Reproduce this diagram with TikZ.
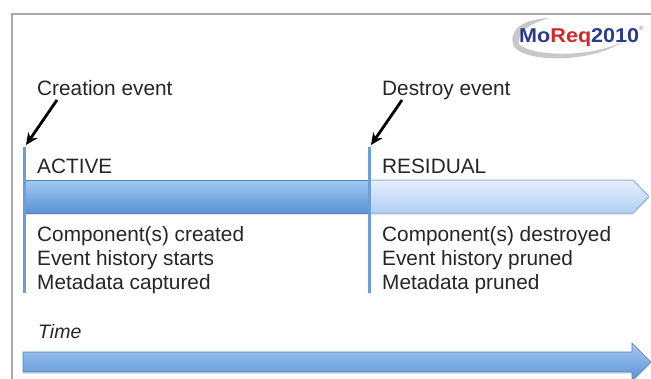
\documentclass[tikz,border=0pt]{standalone}
\usepackage{fontspec}
\setmainfont{Liberation Sans}
\usetikzlibrary{arrows.meta,shadows}
\definecolor{framegray}{HTML}{AAAAAA}
\definecolor{bandtop}{HTML}{A4C8F1}
\definecolor{bandbot}{HTML}{5A93D5}
\definecolor{lighttop}{HTML}{E6EFFC}
\definecolor{lightbot}{HTML}{B0CEF2}
\definecolor{lightedge}{HTML}{8DB3E0}
\definecolor{vline}{HTML}{6A9FD8}
\definecolor{logonavy}{HTML}{2A3A8E}
\definecolor{logored}{HTML}{D3262B}
\definecolor{swoosh}{HTML}{C8C8C8}
\tikzset{
  lbl/.style={anchor=base west, inner sep=0pt, font=\fontsize{20.8}{24}\selectfont, text=black!85},
  timelbl/.style={anchor=base west, inner sep=0pt, font=\fontsize{19.5}{22}\selectfont\itshape, text=black!85},
  darkband/.style={top color=bandtop, bottom color=bandbot, draw=bandbot!90!black, line width=0.6pt,
     drop shadow={opacity=0.2, shadow xshift=0pt, shadow yshift=-2pt}},
  lightband/.style={top color=lighttop, bottom color=lightbot, draw=lightedge, line width=1pt,
     drop shadow={opacity=0.2, shadow xshift=0pt, shadow yshift=-2pt}},
  timearrow/.style={top color=bandtop, bottom color=bandbot, draw=bandbot!90!black, line width=0.6pt,
     drop shadow={opacity=0.2, shadow xshift=0pt, shadow yshift=-2pt}},
  eventline/.style={draw=vline, line width=3pt},
  eventarrow/.style={draw=black, line width=2.8pt, -{Stealth[length=12pt,width=11pt]}},
}
\begin{document}
\begin{tikzpicture}[x=1pt,y=-1pt]
\useasboundingbox (0,0) rectangle (651,378);
\fill[white] (0,0) rectangle (651,378);
% frame
\draw[framegray, line width=2.5pt] (12,380) -- (12,14) -- (652,14);
% logo
\fill[swoosh] (514,47) .. controls (507,29) and (524,19) .. (550,18)
   .. controls (530,23) and (517,32) .. (519,44)
   .. controls (532,57) and (592,58) .. (624,41)
   .. controls (592,63) and (528,63) .. (514,47) -- cycle;
\node[anchor=base west, inner sep=0pt, font=\fontsize{20}{22}\bfseries, xscale=1.08] (logo) at (519,42)
  {\textcolor{logonavy}{Mo}\textcolor{logored}{Req}\textcolor{logonavy}{2010}};
\node[anchor=base west, inner sep=0pt, font=\fontsize{6}{7}\selectfont, text=gray] (reg) at (639,30) {\textregistered};
% bands
\path[lightband] (369,180) -- (633,180) -- (649,196.5) -- (633,213) -- (369,213) -- cycle;
\path[darkband] (24,180) rectangle (369,213);
% time arrow
\path[timearrow] (23,352) -- (632,352) -- (632,343) -- (651,362) -- (632,381) -- (632,372) -- (23,372) -- cycle;
% event lines
\coordinate (ctop) at (24,147);
\coordinate (cbot) at (24,293);
\coordinate (dtop) at (369,147);
\coordinate (dbot) at (369,293);
\draw[eventline] (ctop) -- (cbot);
\draw[eventline] (dtop) -- (dbot);
% labels
\node[lbl] (creation) at (37,95) {Creation event};
\node[lbl] (destroy) at (382,95) {Destroy event};
\node[lbl] (active) at (37,173) {ACTIVE};
\node[lbl] (residual) at (382,173) {RESIDUAL};
\node[lbl] (a1) at (37,241) {Component(s) created};
\node[lbl] (a2) at (37,265) {Event history starts};
\node[lbl] (a3) at (37,289) {Metadata captured};
\node[lbl] (r1) at (382,241) {Component(s) destroyed};
\node[lbl] (r2) at (382,265) {Event history pruned};
\node[lbl] (r3) at (382,289) {Metadata pruned};
\node[timelbl] (time) at (38,338) {Time};
% arrows
\coordinate (ctail) at (57,100);
\coordinate (dtail) at (402,100);
\draw[eventarrow] (ctail) -- ([xshift=2pt,yshift=2pt]ctop);
\draw[eventarrow] (dtail) -- ([xshift=2pt,yshift=2pt]dtop);
\end{tikzpicture}
\end{document}
